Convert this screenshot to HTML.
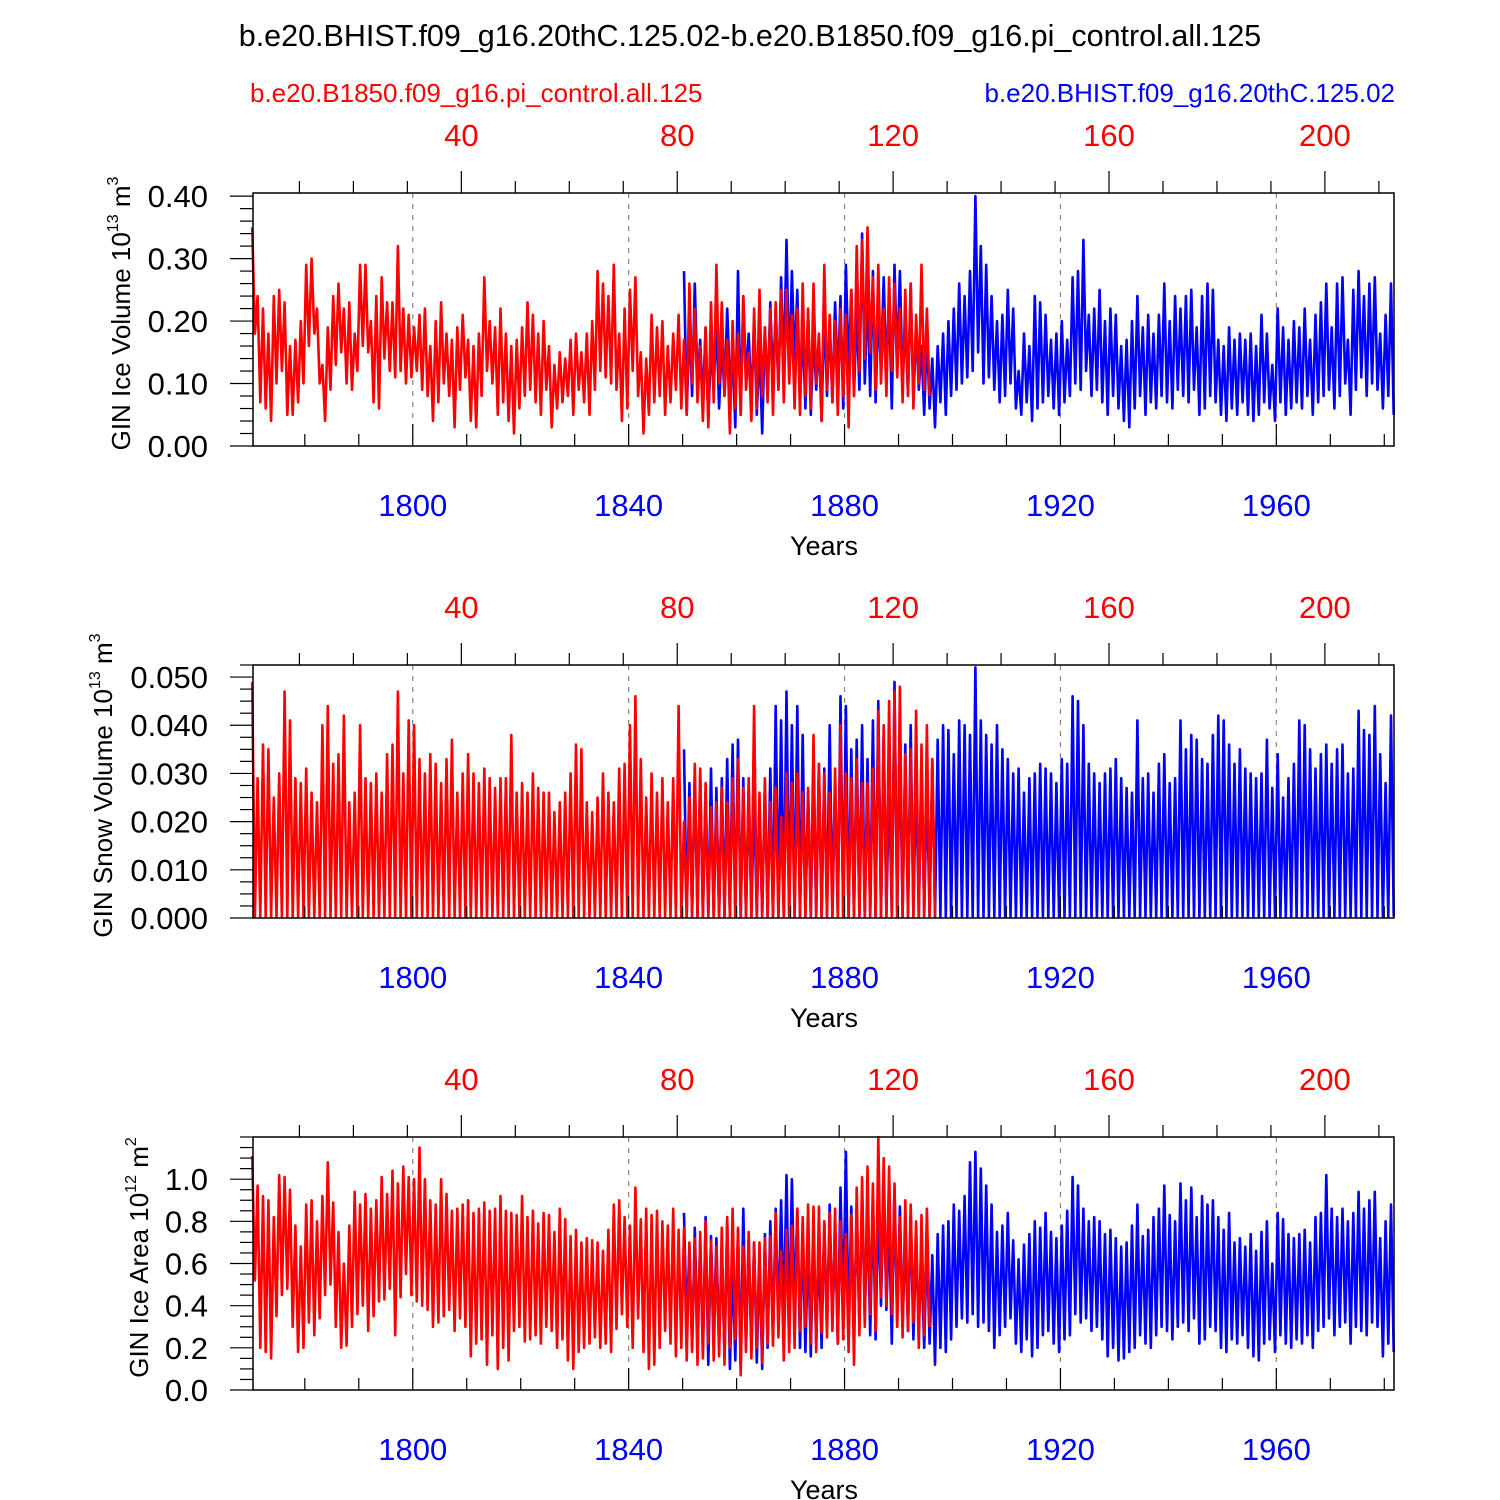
<!DOCTYPE html>
<html><head><meta charset="utf-8"><style>
body{margin:0;background:#fff;}
svg{display:block;font-family:"Liberation Sans",Arial,sans-serif;}
</style></head><body>
<svg id="chart" width="1500" height="1500" viewBox="0 0 1500 1500" xmlns="http://www.w3.org/2000/svg">
<text x="750" y="46" text-anchor="middle" font-size="30.5">b.e20.BHIST.f09_g16.20thC.125.02-b.e20.B1850.f09_g16.pi_control.all.125</text>
<text x="250" y="102" font-size="26" fill="#f00">b.e20.B1850.f09_g16.pi_control.all.125</text>
<text x="1395" y="102" text-anchor="end" font-size="26" fill="#00f">b.e20.BHIST.f09_g16.20thC.125.02</text>
</svg>
<script>
// ---- data (annual max / min estimates) ----
const redStartYear = 1770; // control year 1 plotted at 1770
const blueStartYear = 1850;
const bottomTicks = [1800, 1840, 1880, 1920, 1960];
const topTicks = [40, 80, 120, 160, 200];
const iceVolTicks = ["0.00","0.10","0.20","0.30","0.40"];
const snowTicks = ["0.000","0.010","0.020","0.030","0.040","0.050"];
const areaTicks = ["0.0","0.2","0.4","0.6","0.8","1.0"];

const redIceMax = [0.35,0.24,0.22,0.18,0.24,0.25,0.23,0.16,0.17,0.20,0.29,0.30,0.22,0.13,0.19,0.24,0.26,0.22,0.23,0.18,0.29,0.29,0.20,0.24,0.27,0.23,0.23,0.32,0.22,0.21,0.19,0.21,0.22,0.16,0.20,0.23,0.18,0.17,0.19,0.21,0.17,0.16,0.18,0.27,0.20,0.19,0.22,0.18,0.16,0.17,0.19,0.23,0.21,0.18,0.20,0.16,0.13,0.15,0.14,0.17,0.18,0.15,0.18,0.20,0.28,0.26,0.24,0.29,0.18,0.22,0.25,0.27,0.15,0.14,0.21,0.19,0.20,0.16,0.18,0.21,0.17,0.26,0.22,0.16,0.19,0.23,0.29,0.23,0.17,0.20,0.18,0.24,0.15,0.22,0.25,0.19,0.22,0.23,0.25,0.25,0.21,0.22,0.26,0.22,0.26,0.18,0.29,0.21,0.20,0.22,0.21,0.25,0.32,0.33,0.35,0.27,0.29,0.22,0.27,0.26,0.22,0.25,0.26,0.21,0.29,0.22];
const redIceMin = [0.18,0.07,0.06,0.04,0.10,0.12,0.05,0.05,0.07,0.10,0.16,0.18,0.10,0.04,0.09,0.13,0.15,0.10,0.09,0.12,0.16,0.15,0.07,0.06,0.14,0.12,0.11,0.12,0.10,0.11,0.12,0.09,0.08,0.04,0.07,0.10,0.08,0.03,0.09,0.11,0.04,0.03,0.08,0.12,0.10,0.05,0.07,0.04,0.02,0.06,0.08,0.09,0.07,0.05,0.09,0.03,0.06,0.07,0.08,0.05,0.09,0.07,0.05,0.09,0.12,0.11,0.10,0.09,0.04,0.06,0.12,0.08,0.02,0.05,0.07,0.08,0.05,0.07,0.09,0.06,0.05,0.10,0.07,0.04,0.03,0.07,0.10,0.08,0.02,0.06,0.05,0.09,0.04,0.06,0.08,0.07,0.05,0.09,0.07,0.10,0.06,0.05,0.08,0.06,0.10,0.04,0.09,0.07,0.05,0.08,0.03,0.08,0.12,0.14,0.15,0.09,0.10,0.08,0.12,0.11,0.07,0.08,0.06,0.10,0.09,0.08];
const blueIceMax = [0.28,0.20,0.26,0.17,0.19,0.16,0.20,0.17,0.22,0.15,0.28,0.24,0.18,0.20,0.16,0.19,0.23,0.22,0.27,0.33,0.28,0.25,0.19,0.21,0.18,0.17,0.22,0.20,0.23,0.24,0.29,0.25,0.22,0.34,0.25,0.28,0.22,0.27,0.24,0.29,0.28,0.20,0.26,0.19,0.16,0.18,0.14,0.16,0.18,0.20,0.22,0.26,0.24,0.28,0.40,0.32,0.29,0.24,0.20,0.21,0.25,0.22,0.12,0.18,0.16,0.24,0.23,0.21,0.17,0.18,0.20,0.17,0.27,0.28,0.33,0.21,0.22,0.25,0.20,0.22,0.21,0.16,0.17,0.20,0.24,0.19,0.21,0.18,0.21,0.26,0.20,0.24,0.22,0.24,0.25,0.19,0.24,0.26,0.25,0.17,0.16,0.19,0.17,0.18,0.17,0.18,0.16,0.21,0.18,0.13,0.22,0.19,0.17,0.20,0.19,0.22,0.17,0.21,0.23,0.26,0.19,0.26,0.27,0.17,0.25,0.28,0.24,0.26,0.27,0.18,0.21,0.26];
const blueIceMin = [0.05,0.08,0.10,0.07,0.04,0.09,0.06,0.08,0.10,0.03,0.05,0.11,0.07,0.05,0.02,0.08,0.10,0.09,0.12,0.11,0.13,0.07,0.06,0.05,0.09,0.04,0.08,0.07,0.10,0.06,0.12,0.08,0.09,0.10,0.08,0.07,0.12,0.11,0.06,0.13,0.10,0.08,0.07,0.09,0.05,0.06,0.03,0.07,0.05,0.08,0.09,0.10,0.11,0.12,0.15,0.10,0.11,0.09,0.07,0.08,0.10,0.06,0.05,0.07,0.04,0.06,0.07,0.08,0.06,0.05,0.07,0.08,0.10,0.09,0.12,0.08,0.09,0.07,0.05,0.08,0.06,0.04,0.03,0.06,0.08,0.05,0.07,0.06,0.08,0.07,0.06,0.09,0.08,0.07,0.09,0.05,0.06,0.08,0.07,0.05,0.04,0.06,0.05,0.07,0.05,0.04,0.05,0.07,0.06,0.04,0.07,0.05,0.06,0.07,0.06,0.08,0.05,0.07,0.08,0.09,0.06,0.08,0.10,0.05,0.09,0.11,0.08,0.10,0.09,0.06,0.08,0.05];

const redSnowMax = [0.049,0.029,0.036,0.035,0.025,0.030,0.047,0.041,0.029,0.028,0.031,0.026,0.024,0.040,0.044,0.032,0.034,0.042,0.024,0.026,0.040,0.029,0.028,0.030,0.026,0.034,0.036,0.047,0.030,0.041,0.040,0.033,0.030,0.034,0.032,0.028,0.033,0.037,0.026,0.030,0.034,0.030,0.028,0.031,0.029,0.027,0.029,0.029,0.038,0.026,0.028,0.026,0.030,0.027,0.026,0.026,0.022,0.024,0.026,0.030,0.036,0.035,0.024,0.022,0.025,0.030,0.026,0.024,0.031,0.032,0.040,0.046,0.033,0.025,0.030,0.026,0.029,0.024,0.029,0.044,0.020,0.025,0.032,0.031,0.028,0.023,0.024,0.027,0.024,0.029,0.033,0.027,0.029,0.044,0.026,0.029,0.024,0.027,0.021,0.030,0.028,0.030,0.026,0.027,0.038,0.032,0.030,0.026,0.031,0.040,0.030,0.029,0.033,0.028,0.028,0.031,0.043,0.040,0.045,0.047,0.048,0.034,0.035,0.043,0.036,0.040,0.033];
const blueSnowMax = [0.035,0.028,0.029,0.030,0.026,0.031,0.027,0.029,0.033,0.036,0.037,0.029,0.027,0.026,0.024,0.028,0.031,0.044,0.041,0.047,0.040,0.044,0.038,0.026,0.030,0.032,0.031,0.040,0.029,0.046,0.044,0.035,0.037,0.040,0.033,0.041,0.045,0.038,0.029,0.049,0.037,0.036,0.040,0.030,0.033,0.028,0.033,0.037,0.040,0.039,0.034,0.041,0.040,0.038,0.052,0.041,0.038,0.036,0.040,0.035,0.033,0.030,0.031,0.026,0.029,0.030,0.032,0.031,0.030,0.028,0.033,0.032,0.046,0.045,0.040,0.032,0.030,0.028,0.030,0.031,0.033,0.029,0.027,0.026,0.041,0.029,0.030,0.026,0.032,0.034,0.028,0.029,0.041,0.035,0.038,0.037,0.033,0.032,0.038,0.042,0.041,0.036,0.032,0.035,0.031,0.030,0.029,0.030,0.037,0.027,0.034,0.025,0.029,0.032,0.041,0.040,0.035,0.031,0.034,0.036,0.032,0.035,0.036,0.030,0.031,0.043,0.039,0.038,0.044,0.034,0.028,0.042];

const redAreaMax = [1.11,0.97,0.92,0.90,0.82,1.02,1.01,0.95,0.78,0.68,0.88,0.90,0.80,0.92,1.08,0.89,0.75,0.60,0.78,0.94,0.88,0.93,0.86,0.90,1.01,0.93,1.04,0.98,1.06,1.01,1.00,1.15,1.00,0.90,0.88,1.00,0.93,0.85,0.86,0.88,0.90,0.84,0.86,0.89,0.85,0.86,0.92,0.85,0.84,0.83,0.92,0.82,0.85,0.79,0.84,0.83,0.75,0.86,0.81,0.73,0.76,0.70,0.72,0.71,0.70,0.66,0.76,0.88,0.90,0.82,0.78,0.96,0.81,0.86,0.83,0.85,0.80,0.78,0.86,0.76,0.77,0.70,0.72,0.75,0.80,0.71,0.68,0.77,0.82,0.86,0.77,0.68,0.75,0.70,0.70,0.72,0.73,0.84,0.66,0.76,0.78,0.86,0.82,0.88,0.87,0.87,0.80,0.84,0.86,0.80,0.74,0.83,0.96,1.01,1.06,0.98,1.20,1.10,1.06,0.98,0.82,0.90,0.88,0.80,0.83,0.86];
const redAreaMin = [0.52,0.20,0.18,0.15,0.35,0.45,0.48,0.30,0.18,0.20,0.32,0.26,0.34,0.45,0.50,0.30,0.20,0.21,0.30,0.36,0.40,0.28,0.35,0.42,0.43,0.48,0.26,0.44,0.55,0.45,0.42,0.40,0.38,0.30,0.32,0.35,0.38,0.28,0.34,0.30,0.16,0.22,0.24,0.12,0.26,0.10,0.20,0.14,0.28,0.30,0.23,0.24,0.26,0.22,0.30,0.28,0.20,0.24,0.14,0.10,0.18,0.20,0.22,0.25,0.20,0.22,0.18,0.29,0.36,0.30,0.20,0.34,0.18,0.10,0.12,0.20,0.28,0.22,0.16,0.20,0.14,0.18,0.12,0.15,0.22,0.14,0.16,0.12,0.20,0.24,0.07,0.18,0.15,0.20,0.13,0.22,0.21,0.25,0.14,0.18,0.20,0.28,0.30,0.22,0.18,0.27,0.25,0.28,0.22,0.24,0.18,0.12,0.26,0.30,0.36,0.28,0.44,0.40,0.36,0.30,0.25,0.28,0.32,0.20,0.26,0.30];
const blueAreaMax = [0.84,0.68,0.77,0.70,0.82,0.73,0.72,0.66,0.80,0.60,0.76,0.86,0.72,0.70,0.63,0.74,0.80,0.86,0.90,1.02,1.00,0.86,0.75,0.71,0.78,0.69,0.80,0.88,0.74,0.96,1.13,0.87,0.84,0.94,0.86,0.90,0.88,0.98,0.80,0.96,0.87,0.74,0.83,0.70,0.62,0.71,0.64,0.74,0.78,0.80,0.88,0.85,0.92,1.08,1.13,1.05,0.97,0.88,0.75,0.78,0.84,0.71,0.62,0.69,0.74,0.80,0.77,0.84,0.75,0.72,0.78,0.85,1.01,0.97,0.86,0.80,0.82,0.80,0.74,0.76,0.72,0.68,0.70,0.78,0.88,0.73,0.76,0.82,0.86,0.97,0.83,0.80,0.98,0.90,0.96,0.82,0.92,0.88,0.90,0.82,0.76,0.84,0.70,0.72,0.68,0.74,0.66,0.75,0.80,0.60,0.84,0.81,0.74,0.72,0.74,0.76,0.70,0.82,0.84,1.02,0.86,0.82,0.86,0.80,0.84,0.94,0.86,0.90,0.94,0.72,0.80,0.88];
const blueAreaMin = [0.30,0.20,0.24,0.18,0.12,0.26,0.20,0.16,0.10,0.14,0.11,0.20,0.18,0.13,0.10,0.20,0.24,0.30,0.34,0.28,0.38,0.20,0.18,0.16,0.22,0.20,0.28,0.30,0.22,0.36,0.28,0.26,0.30,0.34,0.26,0.24,0.40,0.38,0.22,0.32,0.30,0.28,0.24,0.30,0.20,0.22,0.12,0.20,0.18,0.24,0.30,0.34,0.32,0.36,0.30,0.32,0.28,0.20,0.26,0.30,0.34,0.22,0.18,0.24,0.16,0.20,0.26,0.28,0.22,0.18,0.24,0.26,0.36,0.32,0.34,0.28,0.30,0.24,0.16,0.20,0.14,0.15,0.18,0.20,0.26,0.22,0.20,0.26,0.30,0.28,0.24,0.30,0.32,0.28,0.34,0.22,0.24,0.30,0.28,0.20,0.18,0.24,0.22,0.26,0.20,0.16,0.14,0.22,0.24,0.18,0.26,0.22,0.20,0.24,0.22,0.26,0.20,0.28,0.30,0.34,0.26,0.30,0.32,0.22,0.30,0.28,0.26,0.32,0.30,0.16,0.22,0.18];

// ---- drawing ----
const NS = "http://www.w3.org/2000/svg";
const svg = document.getElementById('chart');
const X0 = 253, X1 = 1394, YMIN = 1770.4, YMAX = 1981.8;
function xs(yr){ return X0 + (yr - YMIN) / (YMAX - YMIN) * (X1 - X0); }
function mk(tag, attrs, parent){ const e = document.createElementNS(NS, tag); for (const k in attrs) e.setAttribute(k, attrs[k]); (parent||svg).appendChild(e); return e; }

function series(g, ys, maxArr, minArr, start, color, name){
  let pts = [];
  for (let i = 0; i < maxArr.length; i++){
    const yr = start + i;
    if (yr + 0.25 > YMAX) break;
    pts.push(xs(yr + 0.25).toFixed(1) + ',' + ys(maxArr[i]).toFixed(1));
    if (yr + 0.75 <= YMAX) pts.push(xs(yr + 0.75).toFixed(1) + ',' + ys(minArr ? minArr[i] : 0.0003).toFixed(1));
  }
  const p = mk('polyline', {points: pts.join(' '), fill: 'none', stroke: color, 'stroke-width': 2.6, 'stroke-linejoin': 'round'}, g);
  
  
}

function panel(idx, top, vmax, ticks, minorStep, title, sup, red, blue){
  const bot = top + 253;
  const g = mk('g', {});
  
  
  const ys = v => bot - v / vmax * (bot - top);
  bottomTicks.forEach(t => { const l = mk('line', {x1: xs(t), x2: xs(t), y1: top, y2: bot, stroke: '#888', 'stroke-width': 1.2, 'stroke-dasharray': '5,6'}, g);
      });
  series(g, ys, blue[0], blue[1], blueStartYear, '#00f', 'historical-series');
  series(g, ys, red[0], red[1], redStartYear, '#f00', 'control-series');
  const fr = mk('rect', {x: X0, y: top, width: X1 - X0, height: bot - top, fill: 'none', stroke: '#000', 'stroke-width': 1.5}, g);
   
  for (let v = 0; v <= vmax + 1e-9; v += minorStep){
    const major = ticks.some(t => Math.abs(parseFloat(t) - v) < minorStep / 10);
    mk('line', {x1: major ? 230 : 240, x2: X0, y1: ys(v), y2: ys(v), stroke: '#000', 'stroke-width': 1.2}, g);
  }
  ticks.forEach(t => { const tx = mk('text', {x: 208, y: ys(parseFloat(t)) + 11, 'text-anchor': 'end', 'font-size': 31}, g); tx.textContent = t;
      });
  for (let yr = 1780; yr <= 1980; yr += 10){
    const major = (yr - 1800) % 40 === 0;
    mk('line', {x1: xs(yr), x2: xs(yr), y1: bot, y2: bot - (major ? 22 : 12), stroke: '#000', 'stroke-width': 1.2}, g);
  }
  for (let cy = 10; cy <= 210; cy += 10){
    const major = cy % 40 === 0;
    const xx = xs(cy + redStartYear - 1);
    if (xx > X1) break;
    mk('line', {x1: xx, x2: xx, y1: top, y2: top - (major ? 22 : 12), stroke: '#000', 'stroke-width': 1.2}, g);
  }
  bottomTicks.forEach(t => { const tx = mk('text', {x: xs(t), y: bot + 70, 'text-anchor': 'middle', 'font-size': 31, fill: '#00f'}, g); tx.textContent = t;
      });
  topTicks.forEach(t => { const tx = mk('text', {x: xs(t + redStartYear - 1), y: top - 47, 'text-anchor': 'middle', 'font-size': 31, fill: '#f00'}, g); tx.textContent = t;
      });
  const xt = mk('text', {x: 824, y: bot + 109, 'text-anchor': 'middle', 'font-size': 27}, g); xt.textContent = 'Years';
   
  const ax = title[2];
  const yt = mk('text', {transform: `translate(${ax},${(top + bot) / 2 - 6}) rotate(-90)`, 'text-anchor': 'middle', 'font-size': 26}, g);
  yt.innerHTML = title[0] + `<tspan font-size="16" dy="-12">${sup}</tspan><tspan dy="12"> ${title[1]}</tspan><tspan font-size="16" dy="-12">${title[3]}</tspan>`;
   
}

panel(1, 193, 0.405, iceVolTicks, 0.02, ['GIN Ice Volume 10', 'm', 130, '3'], '13', [redIceMax, redIceMin], [blueIceMax, blueIceMin]);
panel(2, 665, 0.0525, snowTicks, 0.0025, ['GIN Snow Volume 10', 'm', 112, '3'], '13', [redSnowMax, null], [blueSnowMax, null]);
panel(3, 1137, 1.2, areaTicks, 0.05, ['GIN Ice Area 10', 'm', 148, '2'], '12', [redAreaMax, redAreaMin], [blueAreaMax, blueAreaMin]);
</script>
</body></html>
